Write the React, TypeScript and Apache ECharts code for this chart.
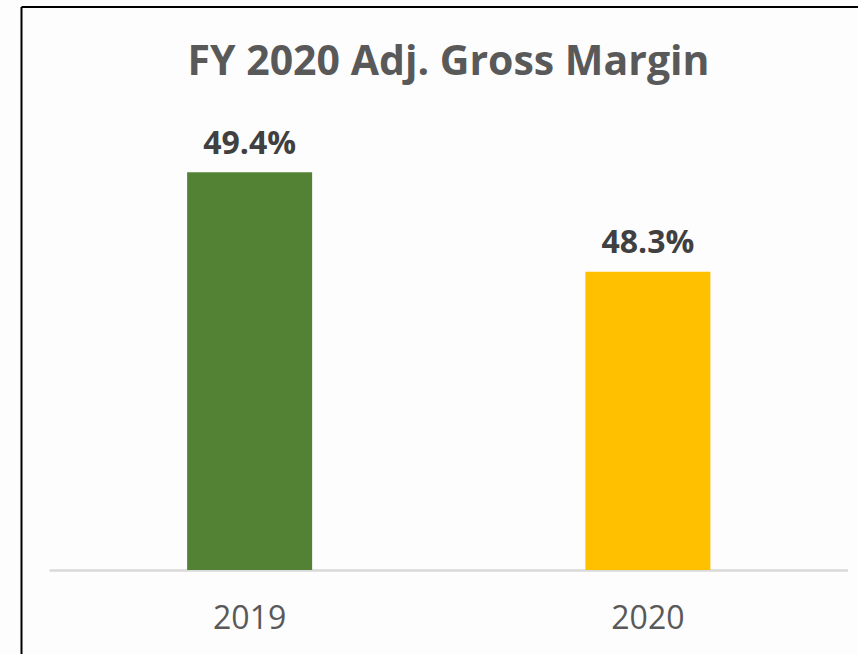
import React, { useEffect, useRef } from "react";
import * as echarts from "echarts";

const categories = ["2019", "2020"];
const values = [49.4, 48.3];
const barColors = ["#548235", "#FFC000"];
const titleText = "FY 2020 Adj. Gross Margin";
const yMin = 45;
const yMax = 50;

export default function App() {
  const ref = useRef<HTMLDivElement>(null);
  useEffect(() => {
    if (!ref.current) return;
    const chart = echarts.init(ref.current, null, { renderer: "svg" });
    chart.setOption({
      animation: false,
      backgroundColor: "#fdfdfd",
      grid: { left: 50.5, right: 11, top: 118, bottom: 84, containLabel: false },
      graphic: [
        {
          type: "line",
          shape: { x1: 21.5, y1: 7, x2: 858, y2: 7 },
          style: { stroke: "#000", lineWidth: 2 },
          z: 10,
        },
        {
          type: "line",
          shape: { x1: 21.5, y1: 7, x2: 21.5, y2: 654 },
          style: { stroke: "#000", lineWidth: 2 },
          z: 10,
        },
        {
          type: "text",
          x: 448.5,
          y: 59,
          style: {
            text: titleText,
            align: "center",
            verticalAlign: "middle",
            fill: "#595959",
            font: "bold 41px 'Open Sans'",
          },
        },
      ],
      xAxis: {
        type: "category",
        data: categories,
        axisLine: { show: true, lineStyle: { color: "#d9d9d9", width: 2.5 } },
        axisTick: { show: false },
        axisLabel: {
          color: "#595959",
          fontSize: 32,
          fontFamily: "Open Sans",
          margin: 30,
        },
      },
      yAxis: {
        type: "value",
        min: yMin,
        max: yMax,
        show: false,
        splitLine: { show: false },
      },
      series: [
        {
          type: "bar",
          barWidth: 125,
          data: values.map((v, i) => ({ value: v, itemStyle: { color: barColors[i] } })),
          label: {
            show: true,
            position: "top",
            distance: 15,
            formatter: (p: any) => p.value.toFixed(1) + "%",
            color: "#404040",
            fontSize: 32,
            fontWeight: "bold",
            fontFamily: "Open Sans",
          },
        },
      ],
    });
    return () => chart.dispose();
  }, []);
  return (
    <div
      ref={ref}
      style={{ position: "fixed", left: 0, top: 0, width: 858, height: 654 }}
    />
  );
}
